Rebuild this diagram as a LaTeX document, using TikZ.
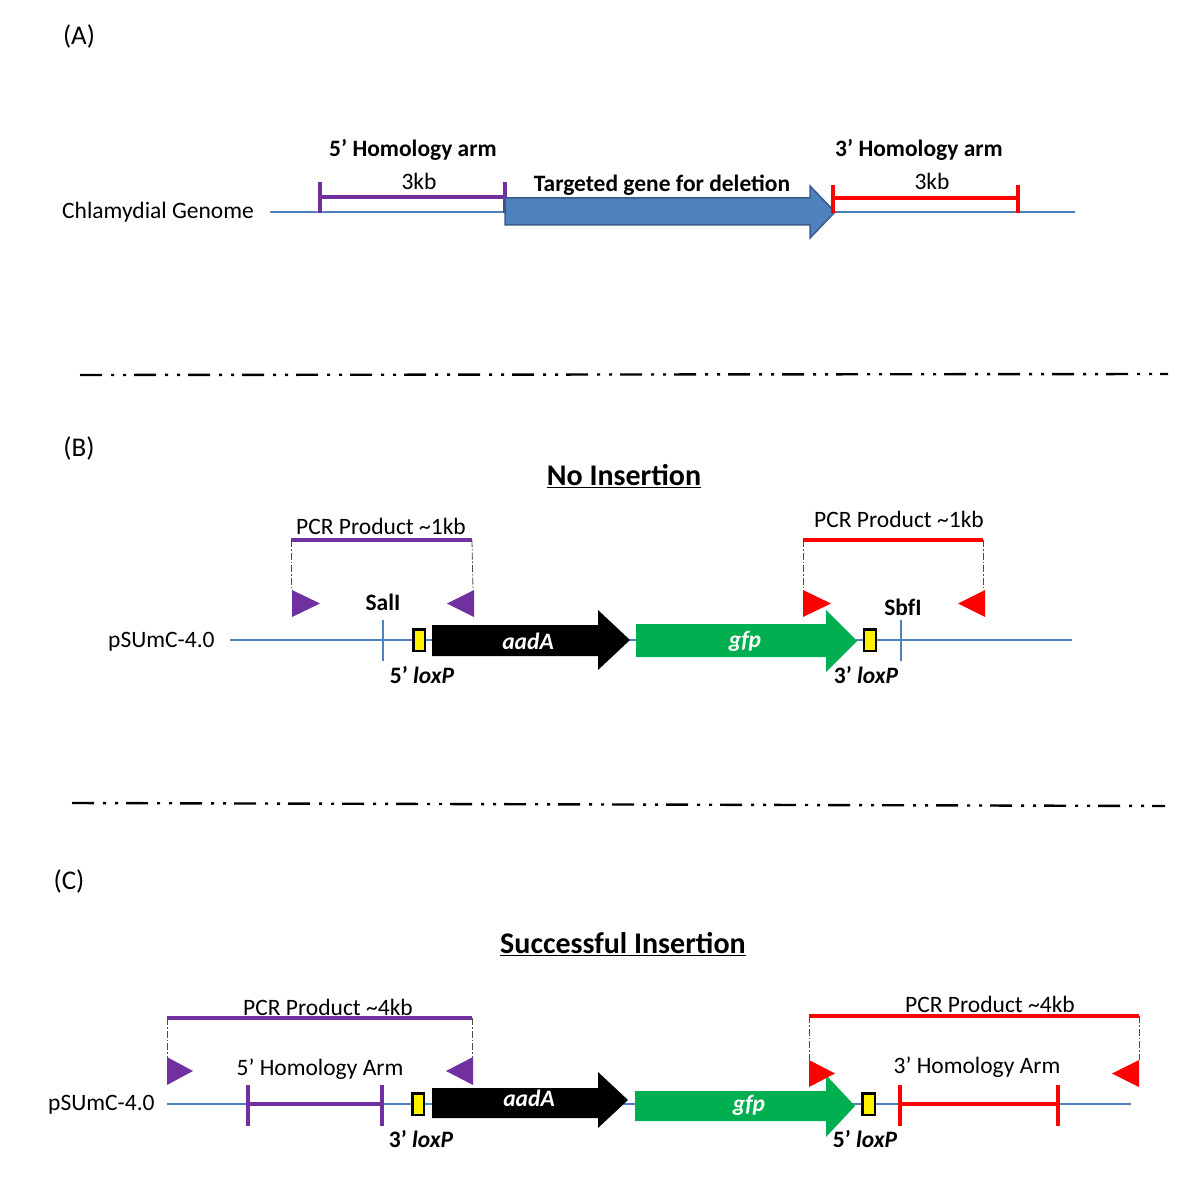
\documentclass[tikz,border=0pt]{standalone}
\usepackage{fontspec}
\setmainfont{Carlito}
\definecolor{dnablue}{HTML}{4F81BD}
\definecolor{darkblue}{HTML}{385D8A}
\definecolor{purp}{HTML}{7030A0}
\definecolor{gfpgreen}{HTML}{00B050}
\tikzset{
  lbl/.style={font=\fontsize{23.5}{27}\selectfont, inner sep=0pt},
  blbl/.style={font=\fontsize{23.5}{27}\selectfont\bfseries, inner sep=0pt},
  plbl/.style={font=\fontsize{27}{31}\selectfont, inner sep=0pt},
  ttl/.style={font=\fontsize{30}{34}\selectfont\bfseries, inner sep=0pt},
  genelbl/.style={font=\fontsize{23.5}{27}\selectfont\bfseries\itshape, text=white, inner sep=0pt},
  dna/.style={draw=dnablue, line width=1.3pt},
  site/.style={draw=dnablue, line width=1.8pt},
  arm/.style={line width=3.4pt},
  sep/.style={line width=2.4pt, dash pattern=on 22pt off 9pt on 3pt off 9pt on 3pt off 8pt},
  guide/.style={draw=black!70, line width=0.8pt, dash pattern=on 7pt off 2pt on 1.5pt off 2pt},
  loxbox/.style={draw=black, fill=yellow, line width=2.4pt},
}
\begin{document}
\begin{tikzpicture}[x=1pt,y=-1pt]
\useasboundingbox (0,0) rectangle (1200,1185);

% ---------------- Panel A ----------------
\node[plbl] (labA) at (79,36) {(A)};
\node[lbl, anchor=west] (chl) at (62,212) {Chlamydial Genome};
\draw[dna] (270,212) coordinate (gA1) -- (1075,212) coordinate (gA2);
% 5' arm
\draw[purp, arm] (320,182) -- (320,213) (320,197) -- (505,197) (505,182) -- (505,213);
\node[blbl] (h5) at (413,150) {5’ Homology arm};
\node[lbl] (kb5) at (419,181) {3kb};
% target gene arrow
\draw[fill=dnablue, draw=darkblue, line width=1.5pt]
  (505,198) -- (810,198) -- (810,186) -- (835,212) -- (810,238) -- (810,225) -- (505,225) -- cycle;
\node[blbl] (tg) at (662,185) {Targeted gene for deletion};
% 3' arm
\draw[red, arm] (833,185) -- (833,213) (833,198) -- (1018,198) (1018,185) -- (1018,213);
\node[blbl] (h3) at (919,150) {3’ Homology arm};
\node[lbl] (kb3) at (932,181) {3kb};

% separator 1
\draw[sep] (80,375) -- (1168,374);

% ---------------- Panel B ----------------
\node[plbl] (labB) at (79,448) {(B)};
\node[ttl] (noins) at (624,476) {\underline{No Insertion}};
\node[lbl, anchor=west] (psuB) at (108,642) {pSUmC-4.0};
\draw[dna] (230,640) -- (1072,640);
% SalI
\draw[site] (383,620) -- (383,661);
\node[blbl] (sal) at (383,602) {SalI};
% loxP 5'
\draw[loxbox] (413.5,629.5) rectangle (425,651);
\node[blbl, anchor=north] (lox5B) at (422,666) {5’ \textit{loxP}};
% aadA arrow
\fill[black] (432,625) -- (598,625) -- (598,610) -- (630,640) -- (598,670) -- (598,656) -- (432,656) -- cycle;
\node[genelbl] (aadB) at (528,641) {aadA};
% gfp arrow
\fill[gfpgreen] (636,624) -- (826,624) -- (826,610) -- (857,641) -- (826,672) -- (826,657) -- (636,657) -- cycle;
\node[genelbl] (gfpB) at (745,641) {gfp};
% loxP 3'
\draw[loxbox] (864,629.5) rectangle (876,651);
\node[blbl, anchor=north] (lox3B) at (866,666) {3’ \textit{loxP}};
% SbfI
\draw[site] (901,620) -- (901,661);
\node[blbl] (sbf) at (903,607) {SbfI};
% purple PCR product
\node[lbl] (pcr1) at (381,526) {PCR Product \textasciitilde1kb};
\draw[purp, arm] (291,540) coordinate (p1a) -- (472,540) coordinate (p1b);
\draw[guide] (p1a) -- (291,590);
\draw[guide] (p1b) -- (473,590);
\fill[purp] (292,590) -- (320,603.5) -- (292,617) -- cycle;
\fill[purp] (474,590) -- (447,603.5) -- (474,617) -- cycle;
% red PCR product
\node[lbl] (pcr2) at (899,519) {PCR Product \textasciitilde1kb};
\draw[red, arm] (803,540) coordinate (r1a) -- (983,540) coordinate (r1b);
\draw[guide] (r1a) -- (803,590);
\draw[guide] (r1b) -- (983,590);
\fill[red] (803,590) -- (831,603.5) -- (803,617) -- cycle;
\fill[red] (985,590) -- (958,603.5) -- (985,617) -- cycle;

% separator 2
\draw[sep] (72,803) -- (1165,806);

% ---------------- Panel C ----------------
\node[plbl] (labC) at (69,881) {(C)};
\node[ttl] (succ) at (623,944) {\underline{Successful Insertion}};
\node[lbl, anchor=west] (psuC) at (48,1105) {pSUmC-4.0};
\draw[dna] (167,1104) -- (1131,1104);
% purple PCR product
\node[lbl] (pcr3) at (328,1007) {PCR Product \textasciitilde4kb};
\draw[purp, arm] (167,1018) coordinate (p2a) -- (472,1018) coordinate (p2b);
\draw[guide] (p2a) -- (167,1057);
\draw[guide] (p2b) -- (472,1057);
\fill[purp] (167,1057) -- (193,1071) -- (167,1085) -- cycle;
\fill[purp] (473,1057) -- (446,1071) -- (473,1085) -- cycle;
\node[lbl] (h5C) at (320,1069) {5’ Homology Arm};
\draw[purp, arm] (248,1085) -- (248,1126) (248,1104) -- (382,1104) (382,1085) -- (382,1126);
% loxP
\draw[loxbox] (412.5,1093.5) rectangle (424,1115);
\node[blbl, anchor=north] (lox3C) at (421,1130) {3’ \textit{loxP}};
% aadA
\fill[black] (432,1088) -- (598,1088) -- (598,1072) -- (628,1100) -- (598,1128) -- (598,1118) -- (432,1118) -- cycle;
\node[genelbl] (aadC) at (529,1098) {aadA};
% gfp
\fill[gfpgreen] (635,1091) -- (826,1091) -- (826,1075) -- (855,1106) -- (826,1137) -- (826,1121) -- (635,1121) -- cycle;
\node[genelbl] (gfpC) at (749,1105) {gfp};
% loxP
\draw[loxbox] (862.5,1093.5) rectangle (875,1115);
\node[blbl, anchor=north] (lox5C) at (865,1130) {5’ \textit{loxP}};
% 3' arm
\draw[red, arm] (900,1085) -- (900,1126) (900,1104) -- (1058,1104) (1058,1085) -- (1058,1126);
\node[lbl] (h3C) at (977,1067) {3’ Homology Arm};
% red PCR product
\node[lbl] (pcr4) at (990,1004) {PCR Product \textasciitilde4kb};
\draw[red, arm] (809,1016) coordinate (r2a) -- (1139,1016) coordinate (r2b);
\draw[guide] (r2a) -- (809,1060);
\draw[guide] (r2b) -- (1139,1060);
\fill[red] (809,1060) -- (835,1073.5) -- (809,1087) -- cycle;
\fill[red] (1139,1060) -- (1112,1073.5) -- (1139,1087) -- cycle;
\end{tikzpicture}
\end{document}
